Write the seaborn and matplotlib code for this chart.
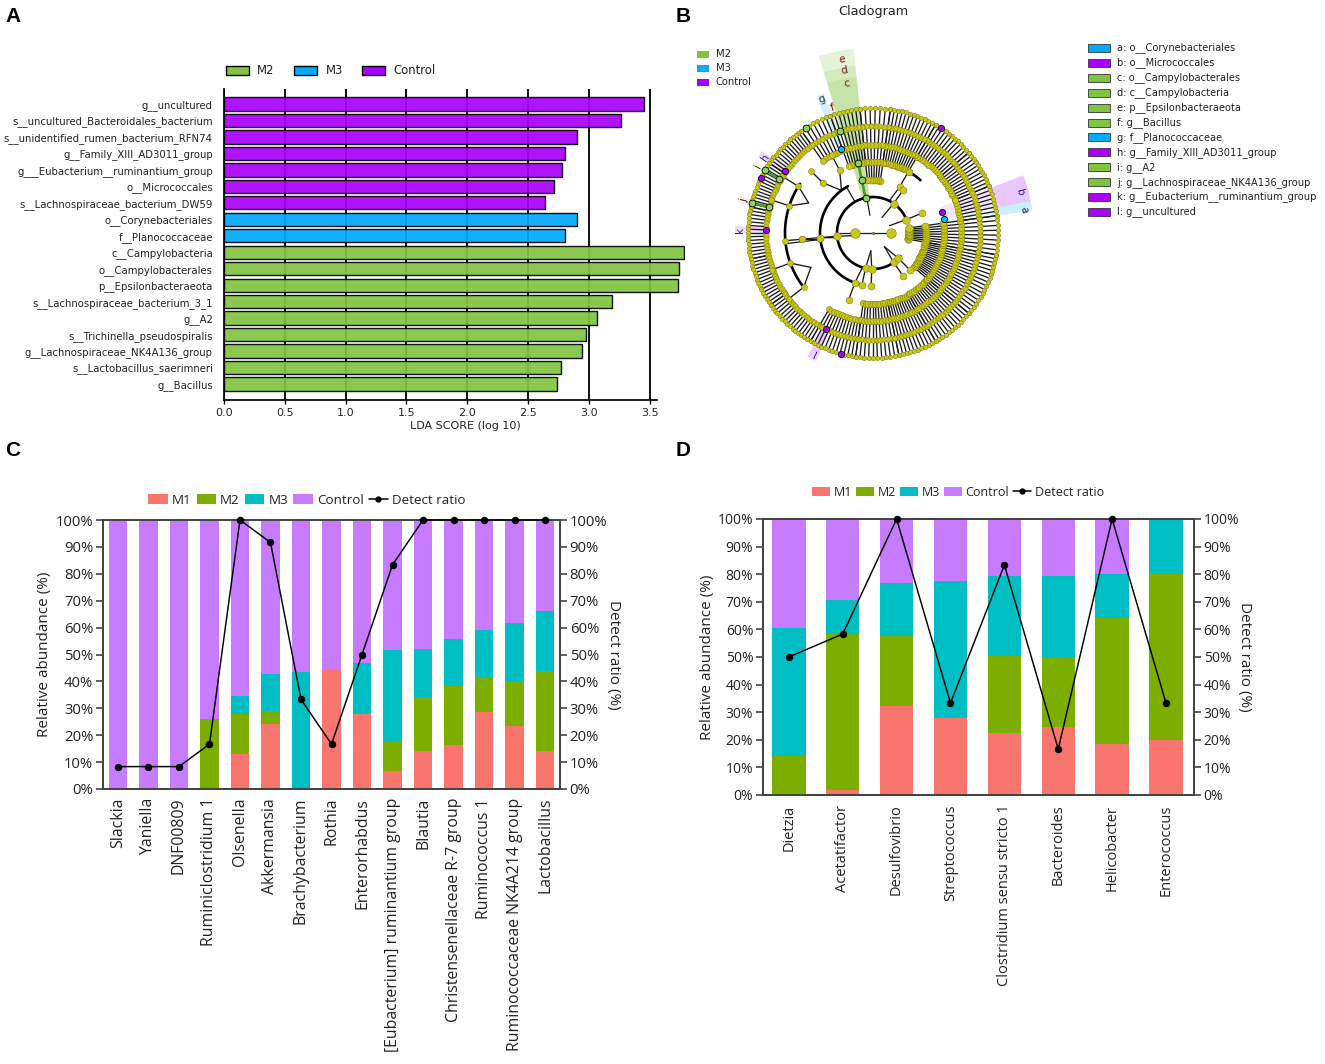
import numpy as np
import pandas as pd
import matplotlib
matplotlib.use("Agg")
import matplotlib.pyplot as plt
from matplotlib.patches import Patch, Rectangle, Wedge
from matplotlib.lines import Line2D
import seaborn as sns

W, H = 1325, 1064

# panel A
lda_features = ["g__uncultured", "s__uncultured_Bacteroidales_bacterium",
                "s__unidentified_rumen_bacterium_RFN74", "g__Family_XIII_AD3011_group",
                "g___Eubacterium__ruminantium_group", "o__Micrococcales",
                "s__Lachnospiraceae_bacterium_DW59", "o__Corynebacteriales",
                "f__Planococcaceae", "c__Campylobacteria", "o__Campylobacterales",
                "p__Epsilonbacteraeota", "s__Lachnospiraceae_bacterium_3_1", "g__A2",
                "s__Trichinella_pseudospiralis", "g__Lachnospiraceae_NK4A136_group",
                "s__Lactobacillus_saerimneri", "g__Bacillus"]
lda_scores = [3.45, 3.26, 2.90, 2.80, 2.78, 2.71, 2.64, 2.90, 2.80,
              3.78, 3.74, 3.73, 3.19, 3.07, 2.98, 2.94, 2.77, 2.74]
lda_groups = ["Control"] * 7 + ["M3"] * 2 + ["M2"] * 9
lda_ticks = [0.0, 0.5, 1.0, 1.5, 2.0, 2.5, 3.0, 3.5]

# panel C, percent per group
c_genus = ["Slackia", "Yaniella", "DNF00809", "Ruminiclostridium 1", "Olsenella", "Akkermansia",
           "Brachybacterium", "Rothia", "Enterorhabdus", "[Eubacterium] ruminantium group",
           "Blautia", "Christensenellaceae R-7 group", "Ruminococcus 1",
           "Ruminococcaceae NK4A214 group", "Lactobacillus"]
c_m1 = [0, 0, 0, 0, 13.0, 24.2, 0, 44.4, 27.7, 6.7, 14.2, 16.5, 28.6, 23.4, 14.2]
c_m2 = [0, 0, 0, 26.0, 14.7, 4.8, 0, 0, 0, 11.1, 20.1, 21.7, 12.9, 16.9, 29.8]
c_m3 = [0, 0, 0, 0, 6.7, 13.8, 43.4, 0, 19.3, 34.0, 17.7, 17.5, 17.5, 21.4, 22.0]
c_detect = [8.33, 8.33, 8.33, 16.67, 100, 91.67, 33.33, 16.67, 50, 83.33, 100, 100, 100, 100, 100]

# panel D
d_genus = ["Dietzia", "Acetatifactor", "Desulfovibrio", "Streptococcus",
           "Clostridium sensu stricto 1", "Bacteroides", "Helicobacter", "Enterococcus"]
d_m1 = [0, 1.7, 32.3, 27.9, 22.4, 24.6, 18.4, 20.0]
d_m2 = [14.0, 56.6, 25.4, 0, 28.1, 25.0, 45.9, 60.0]
d_m3 = [46.4, 12.5, 19.0, 49.8, 29.0, 29.7, 15.7, 20.0]
d_detect = [50, 58.33, 100, 33.33, 83.33, 16.67, 100, 33.33]

pct_ticks = list(range(0, 101, 10))
pct_labels = [f"{v}%" for v in pct_ticks]

# panel B: cladogram, ring radii in px
ring_r = [0, 18, 36, 53, 71, 88, 107, 125]
# fans: from ring, start deg, end deg, lines, to ring
fans = [(5, 22, 40, 11, 7), (5, 40, 60, 12, 7), (4, 60, 82, 13, 7), (3, 82, 96, 7, 7),
        (4, 96, 110, 8, 7), (5, 110, 125, 8, 7), (6, 125, 146, 14, 7),
        (6, 146, 168, 15, 7), (6, 168, 192, 15, 7), (6, 192, 215, 15, 7), (6, 215, 240, 16, 7),
        (5, 240, 262, 13, 7), (4, 262, 282, 11, 7), (4, 282, 300, 11, 7),
        (4, 300, 320, 12, 7), (3, 320, 350, 17, 7), (2, 350, 368, 9, 7), (5, 8, 22, 8, 7),
        (5, 148, 162, 2, 6), (5, 200, 218, 2, 6), (4, 118, 135, 2, 5), (3, 60, 66, 1, 4),
        (2, 55, 65, 1, 3), (2, 185, 192, 1, 3), (3, 185, 190, 1, 4), (4, 185, 190, 1, 5),
        (3, 250, 256, 1, 4), (2, 258, 268, 2, 3), (2, 305, 315, 2, 3), (2, 22, 26, 1, 3)]
# thick arcs: ring, start deg, end deg
arcs = [(2, 22, 320), (3, 118, 256), (5, 146, 218), (4, 48, 62), (5, 22, 60), (5, 100, 125),
        (4, 296, 345), (5, 262, 352), (6, 120, 140), (4, 60, 84), (3, 320, 330)]
inner_links = [(0, 1, 180), (0, 1, 0), (1, 2, 180), (1, 2, 100), (2, 3, 120), (3, 4, 187), (4, 5, 187)]
node_radius = {1: 4.8, 2: 3.8, 3: 3.5, 4: 3.3, 5: 3.0, 6: 2.7, 7: 2.2}
green_nodes = [(102, 36), (102, 54), (102, 72), (108, 107), (122.6, 125),
               (150, 108), (150, 125), (166, 107), (166, 125)]
blue_nodes = [(111, 90), (11, 72)]
purple_nodes = [(17, 72), (57, 125), (145, 108), (154, 125), (178.6, 107), (244, 107), (255, 125)]
clade_keys = ["a: o__Corynebacteriales", "b: o__Micrococcales", "c: o__Campylobacterales",
              "d: c__Campylobacteria", "e: p__Epsilonbacteraeota", "f: g__Bacillus",
              "g: f__Planococcaceae", "h: g__Family_XIII_AD3011_group", "i: g__A2",
              "j: g__Lachnospiraceae_NK4A136_group", "k: g__Eubacterium__ruminantium_group",
              "l: g__uncultured"]
clade_groups = ["M3", "Control", "M2", "M2", "M2", "M2", "M3", "Control", "M2", "M2", "Control", "Control"]

lefse_colors = {"M2": "#82C341", "M3": "#00AAFF", "Control": "#AA00FF"}
stack_colors = {"M1": "#F8766D", "M2": "#7CAE00", "M3": "#00BFC4", "Control": "#C77CFF"}

sns.set_theme(style="white")
plt.rcParams["font.family"] = ["DejaVu Sans"]

fig = plt.figure(figsize=(W / 100, H / 100), dpi=100)


def px_axes(left, top, right, bottom):
    return fig.add_axes([left / W, 1 - bottom / H, (right - left) / W, (bottom - top) / H])


def pol(angle, r):
    return r * np.cos(np.radians(angle)), r * np.sin(np.radians(angle))


# overlay used for panel letters and the cladogram key
ov = fig.add_axes([0, 0, 1, 1])
ov.set_xlim(0, W)
ov.set_ylim(H, 0)
ov.axis("off")

for letter, x, y in [("A", 5, 17), ("B", 676, 16), ("C", 5, 450), ("D", 676, 450)]:
    ov.text(x, y, letter, fontsize=15, fontweight="bold", family="Liberation Sans", va="center", color="black")

# A
ax = px_axes(224, 89, 685, 400)
df_a = pd.DataFrame({"feature": lda_features, "score": lda_scores, "group": lda_groups})
ax.vlines(lda_ticks, -1, 18, color="black", lw=1.3, zorder=0)
sns.barplot(data=df_a, x="score", y="feature", hue="group", palette=lefse_colors, dodge=False,
            order=lda_features, width=0.81, saturation=1, edgecolor="black", linewidth=1.0,
            alpha=0.92, legend=False, ax=ax)
ax.set_xlim(0, 3.79)
ax.set_ylim(17.97, -0.91)
ax.set_xticks(lda_ticks)
ax.set_xticklabels([f"{v:.1f}" for v in lda_ticks], fontsize=8)
ax.tick_params(axis="x", length=3, width=1, pad=3, bottom=True, color="black", labelcolor="#222222")
ax.tick_params(axis="y", length=0, labelsize=7.25, pad=8, labelcolor="#222222")
ax.set_ylabel("")
ax.set_xlabel("LDA SCORE (log 10)", fontsize=8.0, labelpad=2, color="#222222", x=0.523)
for side in ["top", "right"]:
    ax.spines[side].set_visible(False)
ax.spines["left"].set_color("black")
ax.spines["bottom"].set_color("black")
ax.spines["bottom"].set_bounds(0, 3.56)
ax.patch.set_alpha(0)

fig.legend(handles=[Patch(facecolor=lefse_colors[g], edgecolor="black", label=g) for g in lefse_colors],
           loc="center", bbox_to_anchor=(331 / W, 1 - 71 / H), ncol=3, frameon=False, fontsize=8.4,
           handlelength=1.93, handleheight=0.7, handletextpad=0.75, columnspacing=1.68, labelcolor="#222222")

# B
bx = px_axes(683, 43, 1063, 423)
bx.set_xlim(-190, 190)
bx.set_ylim(-190, 190)
bx.axis("off")

wedges = [(96, 107, 36, 157, "M2", 0.45), (96, 107, 157, 168, "M2", 0.35), (96, 107, 168, 185, "M2", 0.2),
          (11.5, 21, 72, 127, "Control", 0.1), (11.5, 21, 127, 161, "Control", 0.22),
          (8, 11.5, 72, 127, "M3", 0.08), (8, 11.5, 127, 161, "M3", 0.2),
          (109.5, 112.5, 90, 148, "M3", 0.18), (106.5, 109.5, 107, 136, "M2", 0.2),
          (143.5, 146.5, 108, 138, "Control", 0.15), (148.5, 151.5, 108, 138, "M2", 0.15),
          (164.5, 167.5, 107, 138, "M2", 0.15), (177, 180, 107, 138, "Control", 0.15),
          (242, 246, 107, 140, "Control", 0.2)]
for a0, a1, r0, r1, grp, alpha in wedges:
    bx.add_patch(Wedge((0, 0), r1, a0, a1, width=r1 - r0, facecolor=lefse_colors[grp],
                       alpha=alpha, lw=0, zorder=1))

nodes = {lvl: [] for lvl in node_radius}
for start_ring, a0, a1, n, end_ring in fans:
    for a in np.linspace(a0, a1, n):
        bx.plot(*pol(np.array([a, a]), np.array([ring_r[start_ring], ring_r[end_ring]])),
                color="#1a1a1a", lw=0.95, zorder=2)
        for lvl in range(start_ring, end_ring + 1):
            nodes[lvl].append(pol(a, ring_r[lvl]))
    # short branches hang off the ring below them
    if n <= 2:
        mid = (a0 + a1) / 2
        bx.plot(*pol(np.array([mid, a0]), np.array([ring_r[start_ring - 1], ring_r[start_ring]])),
                color="#1a1a1a", lw=0.95, zorder=2)
        if n == 2:
            bx.plot(*pol(np.array([mid, a1]), np.array([ring_r[start_ring - 1], ring_r[start_ring]])),
                    color="#1a1a1a", lw=0.95, zorder=2)
for ring, a0, a1 in arcs:
    arc = np.linspace(a0, a1, 80)
    bx.plot(*pol(arc, ring_r[ring]), color="black", lw=1.9, zorder=2, solid_capstyle="round")
for r0, r1, a in inner_links:
    bx.plot(*pol(np.array([a, a]), np.array([ring_r[r0], ring_r[r1]])), color="#1a1a1a", lw=0.9, zorder=2)
nodes[1] += [pol(0, 18), pol(180, 18)]

for lvl, pts in nodes.items():
    pts = np.array(pts)
    sns.scatterplot(x=pts[:, 0], y=pts[:, 1], s=(2 * node_radius[lvl] * 0.72) ** 2, color="#C8C814",
                    edgecolor="#77771a", linewidth=0.35, zorder=3, legend=False, ax=bx)

for a, r0, r1 in [(102, 36, 72), (166, 107, 125), (150, 108, 125)]:
    bx.plot(*pol(np.array([a, a]), np.array([r0, r1])), color="#4E9A2E", lw=2, zorder=3)
for pts, col, size in [(green_nodes, "#90D060", 24), (blue_nodes, "#00C0FF", 20), (purple_nodes, "#AA00FF", 20)]:
    xy = np.array([pol(a, r) for a, r in pts])
    sns.scatterplot(x=xy[:, 0], y=xy[:, 1], s=size, color=col, edgecolor="black", linewidth=0.6,
                    zorder=4, legend=False, ax=bx)
bx.scatter([0], [0], s=1.5, color="#77771a", zorder=3)
bx.set_xlim(-190, 190)
bx.set_ylim(-190, 190)

letter_pos = [("a", 8.6, 153, "#222266", 278), ("b", 15.5, 152, "#222266", 285), ("c", 100, 152, "#7a1020", 10),
              ("d", 100, 165, "#7a1020", 10), ("e", 100, 176, "#7a1020", 10), ("f", 108, 132, "#7a1020", 18),
              ("g", 111, 143, "#224422", 20), ("h", 145, 131, "#222288", 55), ("i", 150, 133, "#7a1020", 60),
              ("j", 166, 133, "#7a1020", 76), ("k", 178.5, 133, "#222288", 90), ("l", 244, 133, "#222288", 155)]
for txt, a, r, col, rot in letter_pos:
    x, y = pol(a, r)
    bx.text(x, y, txt, color=col, fontsize=7.5, rotation=rot, ha="center", va="center", zorder=5)

ov.text(873, 11, "Cladogram", fontsize=9.2, ha="center", va="center", color="#222222")
for y, grp in zip([54, 68, 82], lefse_colors):
    ov.add_patch(Rectangle((697, y - 3.5), 11.5, 7.5, facecolor=lefse_colors[grp], edgecolor="none"))
    ov.text(716, y, grp, fontsize=7.2, va="center", color="#222222")
for i, (key, grp) in enumerate(zip(clade_keys, clade_groups)):
    y = 48 + i * 14.9
    ov.add_patch(Rectangle((1088, y - 4), 22, 8, facecolor=lefse_colors[grp], edgecolor="#333333", lw=0.6))
    ov.text(1117, y, key, fontsize=7.1, va="center", color="#222222")


# C and D share one layout routine
def stacked_panel(box, xlim, genus, m1, m2, m3, detect, bar_width, ylab_x, rlab_x, tick_fs, name_fs, pad):
    a = px_axes(*box)
    m1, m2, m3 = np.array(m1), np.array(m2), np.array(m3)
    tops = {"Control": np.full(len(genus), 100.0), "M3": m1 + m2 + m3, "M2": m1 + m2, "M1": m1}
    for grp, top in tops.items():
        sns.barplot(x=genus, y=top, order=genus, color=stack_colors[grp], width=bar_width,
                    saturation=1, linewidth=0, ax=a)
    a.set_ylim(0, 100)
    a.set_yticks(pct_ticks)
    a.set_yticklabels(pct_labels, fontsize=tick_fs, family="Open Sans")
    a.set_xticks(range(len(genus)))
    a.set_xticklabels(genus, rotation=90, fontsize=name_fs, family="Open Sans")
    a.tick_params(axis="x", length=0, pad=pad, labelcolor="#222222")
    a.tick_params(axis="y", length=5, width=1.2, color="#444444", pad=2, left=True, labelcolor="#222222")
    a.set_ylabel("Relative abundance (%)", fontsize=11, family="Open Sans", color="#222222")
    a.yaxis.set_label_coords(ylab_x, 0.5)

    a2 = a.twinx()
    sns.lineplot(x=np.arange(len(genus)), y=detect, color="black", lw=1.05, marker="o", markersize=4.6,
                 markeredgecolor="black", errorbar=None, clip_on=False, zorder=6, ax=a2)
    a2.set_ylim(0, 100)
    a2.set_yticks(pct_ticks)
    a2.set_yticklabels(pct_labels, fontsize=tick_fs, family="Open Sans")
    a2.tick_params(axis="y", length=5, width=1.2, color="#444444", pad=2, right=True, labelcolor="#222222")
    a2.set_ylabel("Detect ratio (%)", fontsize=11, family="Open Sans", rotation=270, color="#222222")
    a2.yaxis.set_label_coords(rlab_x, 0.5)
    a2.set_xlim(*xlim)
    for s in [a, a2]:
        for spine in s.spines.values():
            spine.set_color("#444444")
            spine.set_linewidth(1.4)
    return a


stacked_panel((103, 520, 560, 789), (-0.49, 14.49), c_genus, c_m1, c_m2, c_m3, c_detect, 0.61,
              -0.112, 1.133, 10.7, 11.4, 6.4)
stacked_panel((763, 519, 1194, 795), (-0.48, 7.52), d_genus, d_m1, d_m2, d_m3, d_detect, 0.62,
              -0.111, 1.134, 10, 10.5, 7)


def stack_legend(cx, cy, fontsize, spacing):
    hs = [Patch(facecolor=stack_colors[g], edgecolor="none", label=g) for g in stack_colors]
    hs.append(Line2D([0], [0], color="black", lw=1.1, marker="o", markersize=3.5, label="Detect ratio"))
    fig.legend(handles=hs, loc="center", bbox_to_anchor=(cx / W, 1 - cy / H), ncol=5, frameon=False,
               handlelength=1.45, handleheight=0.75, handletextpad=0.3, columnspacing=spacing,
               prop={"family": "Open Sans", "size": fontsize}, labelcolor="#222222")


stack_legend(307, 500, 9.6, 0.4)
stack_legend(958, 492, 9.0, 0.3)

fig.savefig("out.png", dpi=100)
